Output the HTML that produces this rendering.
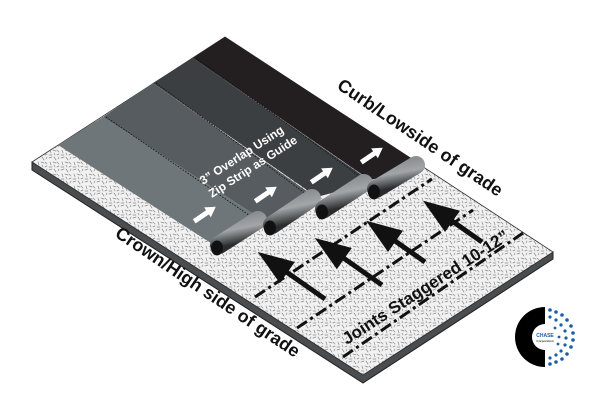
<!DOCTYPE html>
<html><head><meta charset="utf-8"><style>
html,body{margin:0;padding:0;background:#fff;}
svg{display:block;}
text{font-family:"Liberation Sans",Arial,sans-serif;font-weight:bold;}
</style></head><body>
<svg width="600" height="400" viewBox="0 0 600 400" xmlns="http://www.w3.org/2000/svg">
<defs>
<pattern id="tex" width="12" height="12" patternUnits="userSpaceOnUse">
<rect width="12" height="12" fill="#f2f2f2"/>
<g stroke="#8a8a8a" stroke-width="0.7" stroke-linecap="round">
<line x1="1" y1="2" x2="4" y2="1"/><line x1="6" y1="1" x2="8" y2="4"/><line x1="10" y1="3" x2="11" y2="1"/>
<line x1="2" y1="6" x2="3" y2="9"/><line x1="5" y1="6" x2="8" y2="7"/><line x1="9" y1="6" x2="11" y2="8"/>
<line x1="1" y1="11" x2="4" y2="11"/><line x1="6" y1="9" x2="7" y2="11"/><line x1="9" y1="11" x2="11" y2="10"/>
</g></pattern>
<linearGradient id="roll" x1="0" y1="0" x2="0.3" y2="1">
<stop offset="0" stop-color="#8a8e90"/><stop offset="0.45" stop-color="#a2a6a8"/><stop offset="1" stop-color="#2a2c2d"/>
</linearGradient>
</defs>
<polygon points="32,162 363,375 553,252 553,259 363,383 32,170" fill="#4a4d4f" stroke="#222" stroke-width="1"/>
<polygon points="32,162 225,37 553,252 363,375" fill="url(#tex)" stroke="#333" stroke-width="0.8"/>
<polygon points="193,58 225,37 425,167 370,180" fill="#231f20"/>
<polygon points="153,83 193,58 372,182 317,197" fill="#3c3f41"/>
<polygon points="103,117 153,83 318,199 263,220" fill="#565c5f"/>
<polygon points="58,145 103,117 263,220 217,247" fill="#6e7679"/>
<g stroke="#111" stroke-width="0.8" stroke-dasharray="1.5,1.5" fill="none">
<line x1="106" y1="117" x2="256" y2="220"/>
<line x1="156" y1="83" x2="310" y2="197"/>
<line x1="196" y1="58" x2="362" y2="178"/>
</g>
<g>
<line x1="219" y1="245" x2="258" y2="220" stroke="url(#roll)" stroke-width="18" stroke-linecap="round"/>
<ellipse cx="217" cy="248" rx="6" ry="7.5" fill="#111"/>
<line x1="272" y1="225" x2="312" y2="198" stroke="url(#roll)" stroke-width="18" stroke-linecap="round"/>
<ellipse cx="270" cy="228" rx="6" ry="7.5" fill="#111"/>
<line x1="324" y1="209" x2="364" y2="183" stroke="url(#roll)" stroke-width="18" stroke-linecap="round"/>
<ellipse cx="322" cy="212" rx="6" ry="7.5" fill="#111"/>
<line x1="376" y1="189" x2="416" y2="165" stroke="url(#roll)" stroke-width="18" stroke-linecap="round"/>
<ellipse cx="374" cy="192" rx="6" ry="7.5" fill="#111"/>
</g>
<g fill="#fff">
<g transform="translate(205,214) rotate(-34)"><polygon points="-13,-2.5 3,-2.5 3,-6 13,0 3,6 3,2.5 -13,2.5"/></g>
<g transform="translate(266,194) rotate(-34)"><polygon points="-13,-2.5 3,-2.5 3,-6 13,0 3,6 3,2.5 -13,2.5"/></g>
<g transform="translate(322,175) rotate(-34)"><polygon points="-13,-2.5 3,-2.5 3,-6 13,0 3,6 3,2.5 -13,2.5"/></g>
<g transform="translate(372,155) rotate(-34)"><polygon points="-13,-2.5 3,-2.5 3,-6 13,0 3,6 3,2.5 -13,2.5"/></g>
</g>
<g stroke="#111" stroke-width="3" stroke-dasharray="12,4,3,4" fill="none">
<line x1="255" y1="297" x2="432" y2="179"/>
<line x1="297" y1="328" x2="473" y2="210"/>
<line x1="343" y1="357" x2="523" y2="233"/>
</g>
<g fill="#111">
<g transform="translate(325,299) rotate(-145)"><polygon points="0,-2.5 46,-2.5 46,-13 82,0 46,13 46,2.5 0,2.5"/></g>
<g transform="translate(382,285) rotate(-145)"><polygon points="0,-2.5 46,-2.5 46,-13 82,0 46,13 46,2.5 0,2.5"/></g>
<g transform="translate(425,262) rotate(-145)"><polygon points="0,-2.5 36,-2.5 36,-13 72,0 36,13 36,2.5 0,2.5"/></g>
<g transform="translate(482,242) rotate(-145)"><polygon points="0,-2.5 36,-2.5 36,-13 72,0 36,13 36,2.5 0,2.5"/></g>
</g>
<text transform="translate(336,88) rotate(34)" font-size="18" fill="#111">Curb/Lowside of grade</text>
<text transform="translate(114,236) rotate(34)" font-size="18" fill="#111">Crown/High side of grade</text>
<text transform="translate(347,345) rotate(-33)" font-size="17" fill="#111">Joints Staggered 10-12”</text>
<g fill="#fff" font-size="12">
<text transform="translate(203,185) rotate(-33)">3” Overlap Using</text>
<text transform="translate(212,198) rotate(-33)">Zip Strip as Guide</text>
</g>
<path d="M545,307 A30,30 0 0 0 545,367 L545,350 A13,13 0 0 1 545,324 Z" fill="#000"/>
<g fill="#1a5fa8">
<circle cx="550" cy="310" r="1.8"/><circle cx="556" cy="312" r="1.8"/><circle cx="562" cy="315" r="1.8"/><circle cx="567" cy="320" r="1.8"/><circle cx="571" cy="326" r="1.8"/><circle cx="573" cy="333" r="1.8"/><circle cx="573" cy="340" r="1.8"/><circle cx="571" cy="347" r="1.8"/><circle cx="567" cy="354" r="1.8"/><circle cx="562" cy="359" r="1.8"/><circle cx="556" cy="362" r="1.8"/><circle cx="550" cy="364" r="1.8"/>
<circle cx="550" cy="317" r="1.6"/><circle cx="556" cy="320" r="1.6"/><circle cx="561" cy="325" r="1.6"/><circle cx="565" cy="331" r="1.6"/><circle cx="566" cy="338" r="1.6"/><circle cx="565" cy="345" r="1.6"/><circle cx="561" cy="351" r="1.6"/><circle cx="556" cy="355" r="1.6"/><circle cx="550" cy="358" r="1.6"/>
<circle cx="559" cy="337" r="1.4"/><circle cx="558" cy="344" r="1.4"/><circle cx="555" cy="328" r="1.4"/>
</g>
<text x="545" y="337" font-size="5" fill="#1a5fa8" text-anchor="middle">CHASE</text>
<text x="545" y="342" font-size="3" fill="#333" text-anchor="middle" font-weight="normal">Corporation</text>
</svg>
</body></html>
